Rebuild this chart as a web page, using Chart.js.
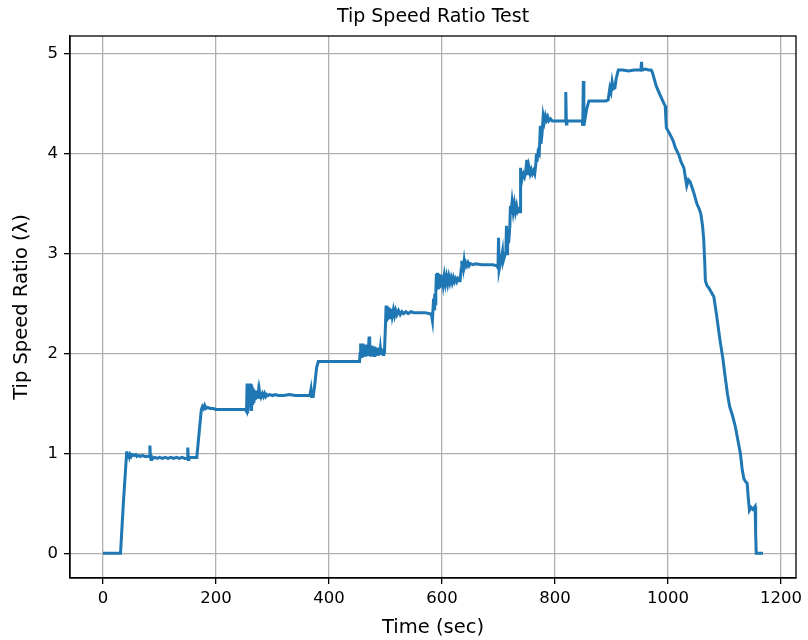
<!DOCTYPE html>
<html>
<head>
<meta charset="utf-8">
<script src="https://cdn.jsdelivr.net/npm/chart.js@4.4.1/dist/chart.umd.min.js"></script>
<style>
  html, body { margin: 0; padding: 0; background: #ffffff; }
  #wrap { width: 808px; height: 640px; }
</style>
</head>
<body>
<div id="wrap"><canvas id="c" width="808" height="640"></canvas></div>
<script>
// ---- data ----
const chartTitle = "Tip Speed Ratio Test";
const xAxisTitle = "Time (sec)";
const yAxisTitle = "Tip Speed Ratio (\u03bb)";
const xTickValues = [0, 200, 400, 600, 800, 1000, 1200];
const yTickValues = [0, 1, 2, 3, 4, 5];

// [time (sec), tip speed ratio]
const startup = [[0,0],[31,0],[36,0.5],[42,1.02]];
const step1 = [[43,0.97],[44,1.01],[45,0.96],[46,1.00],[47,0.97],[48,0.99],[50,0.97],[52,0.99],[55,0.98],[58,0.99],[60,0.97],[63,0.98],[66,0.97],[70,0.98],[74,0.97],[78,0.97],[82,0.97],[83,1.08],[84,0.96],[85,0.94],[86,0.97],[88,0.95],[92,0.96],[96,0.95],[100,0.96],[105,0.95],[110,0.96],[115,0.95],[120,0.96],[125,0.95],[130,0.96],[135,0.95],[140,0.96],[145,0.95],[149,0.95],[150,1.06],[151,0.94],[152,0.96],[160,0.96],[166,0.96]];
const step2 = [[170,1.20],[174,1.44],[176,1.47],[178,1.45],[180,1.48],[182,1.45],[185,1.46],[190,1.45],[195,1.45],[200,1.44],[210,1.44],[220,1.44],[230,1.44],[240,1.44],[250,1.44],[253,1.43]];
const step3 = [[254,1.42],[255,1.70],[256,1.40],[257,1.68],[258,1.46],[259,1.62],[260,1.48],[261,1.70],[262,1.44],[263,1.69],[264,1.50],[265,1.66],[266,1.52],[267,1.64],[268,1.53],[269,1.63],[270,1.54],[271,1.62],[272,1.55],[273,1.62],[274,1.55],[275,1.61],[276,1.56],[277,1.61],[278,1.56],[279,1.60],[280,1.57],[282,1.60],[284,1.57],[286,1.60],[288,1.57],[290,1.59],[292,1.58],[295,1.59],[300,1.58],[305,1.59],[310,1.58],[320,1.58],[330,1.59],[340,1.58],[350,1.58],[360,1.58],[366,1.58],[368,1.64],[369,1.57],[372,1.57],[375,1.70],[378,1.86],[381,1.92]];
const step4 = [[390,1.92],[400,1.92],[420,1.92],[440,1.92],[454,1.92]];
const step5 = [[455,2.00],[456,2.10],[457,1.97],[458,2.09],[459,1.98],[460,2.10],[461,1.97],[462,2.08],[463,1.98],[464,2.09],[465,1.97],[466,2.08],[467,1.98],[468,2.07],[469,1.99],[470,2.08],[471,2.17],[472,1.98],[473,2.07],[474,1.97],[475,2.08],[476,1.98],[477,2.07],[478,1.99],[479,2.06],[480,1.98],[481,2.07],[482,1.99],[483,2.06],[484,1.98],[485,2.05],[486,1.99],[487,2.06],[488,1.98],[489,2.05],[490,1.99],[491,2.05],[492,2.00],[493,2.04],[494,2.00],[495,2.05],[496,1.99],[497,2.04],[498,2.00]];
const step6 = [[500,2.30],[501,2.48],[502,2.32],[503,2.47],[504,2.34],[505,2.46],[506,2.35],[507,2.45],[508,2.36],[509,2.45],[510,2.37],[511,2.44],[512,2.38],[514,2.44],[516,2.38],[518,2.43],[520,2.39],[523,2.43],[526,2.39],[529,2.42],[532,2.40],[536,2.42],[540,2.40],[545,2.42],[550,2.41],[560,2.41],[570,2.41],[578,2.40],[581,2.40],[583,2.33],[585,2.55],[586,2.45],[587,2.60],[588,2.50]];
const step7 = [[589,2.62],[590,2.80],[591,2.64],[592,2.81],[593,2.66],[594,2.80],[595,2.67],[596,2.79],[597,2.68],[598,2.79],[599,2.69],[600,2.78],[602,2.69],[604,2.78],[606,2.70],[608,2.77],[610,2.70],[612,2.77],[614,2.71],[616,2.76],[618,2.71],[620,2.76],[622,2.72],[624,2.75],[626,2.72],[628,2.75],[630,2.73],[632,2.73]];
const step8 = [[634,2.85],[635,2.93],[636,2.86],[637,2.92],[638,2.87],[639,2.92],[640,2.87],[642,2.91],[644,2.88],[646,2.91],[648,2.88],[650,2.90],[655,2.89],[660,2.90],[670,2.89],[680,2.89],[690,2.89],[697,2.88],[699,2.86]];
const climb = [[700,3.16],[701,2.84],[703,2.90],[705,2.95],[707,3.02],[708,2.92],[710,2.96],[713,3.02],[714,3.28],[715,3.00],[716,3.10],[718,3.12],[720,3.28],[721,3.48],[722,3.40],[724,3.52],[726,3.42],[728,3.50],[730,3.42],[732,3.48],[734,3.42],[736,3.44],[738,3.42],[739,3.86],[740,3.70],[742,3.76],[744,3.80],[746,3.77],[748,3.82],[750,3.94],[751,3.80],[752,3.90],[753,3.80],[754,3.86],[756,3.80],[758,3.84],[760,3.80],[762,3.83],[764,3.80],[766,3.90],[767,4.00],[768,3.92],[770,4.02],[772,4.00],[774,4.28],[775,4.10],[777,4.20],[779,4.38],[781,4.32],[783,4.38],[785,4.34],[787,4.37],[789,4.33],[792,4.35],[795,4.33]];
const plateau = [[800,4.33],[810,4.33],[818,4.33],[819,4.62],[820,4.30],[821,4.33],[830,4.33],[840,4.33],[848,4.33],[849,4.28],[850,4.73],[851,4.28],[853,4.35],[856,4.45],[860,4.53],[870,4.53],[880,4.53],[890,4.53],[894,4.54],[897,4.66],[899,4.62],[901,4.72],[903,4.65],[906,4.66],[908,4.75],[912,4.84],[920,4.84],[930,4.83],[940,4.84],[950,4.84],[952,4.84],[953,4.92],[954,4.84],[960,4.85],[965,4.84],[970,4.84],[972,4.82]];
const rundown = [[979,4.68],[985,4.60],[989,4.55],[993,4.50],[995,4.48],[996,4.36],[997,4.26],[1000,4.23],[1003,4.20],[1009,4.13],[1013,4.06],[1019,3.99],[1023,3.92],[1028,3.86],[1031,3.75],[1033,3.68],[1036,3.74],[1039,3.72],[1045,3.62],[1051,3.50],[1055,3.45],[1058,3.40],[1061,3.28],[1063,3.15],[1065,2.90],[1066,2.73],[1069,2.68],[1072,2.66],[1076,2.62],[1081,2.57],[1086,2.38],[1092,2.13],[1097,1.95],[1101,1.77],[1105,1.60],[1109,1.47],[1114,1.38],[1119,1.27],[1124,1.12],[1128,1.00],[1131,0.85],[1134,0.75],[1137,0.72],[1140,0.70],[1142,0.55],[1144,0.43],[1147,0.46],[1150,0.44],[1154,0.47],[1155,0.20],[1156,0.00],[1162,0.00],[1168,0.00]];

const tsrReadings = [].concat(startup, step1, step2, step3, step4, step5, step6, step7, step8, climb, plateau, rundown);

// ---- chart ----
const FONT = "'DejaVu Sans', sans-serif";
const xMin = -58.4, xMax = 1226.4;
const yMin = -0.247, yMax = 5.18;

const framePlugin = {
  id: 'frame',
  afterDraw(chart) {
    const {ctx, chartArea: a} = chart;
    ctx.save();
    ctx.strokeStyle = '#000';
    ctx.lineWidth = 1.3;
    ctx.strokeRect(a.left, a.top, a.right - a.left, a.bottom - a.top);
    ctx.fillStyle = '#000';
    ctx.font = "19px " + FONT;
    ctx.textAlign = 'center';
    ctx.textBaseline = 'middle';
    ctx.fillText(chartTitle, (a.left + a.right) / 2, 17);
    ctx.restore();
  }
};

new Chart(document.getElementById('c'), {
  type: 'line',
  data: {
    datasets: [{
      data: tsrReadings.map(r => ({x: r[0], y: r[1]})),
      borderColor: '#1f77b4',
      borderWidth: 3,
      pointRadius: 0,
      tension: 0,
      fill: false
    }]
  },
  options: {
    responsive: false,
    animation: false,
    layout: { padding: { left: 0, right: 12, top: 36, bottom: 0 } },
    plugins: { legend: { display: false }, title: { display: false }, tooltip: { enabled: false } },
    scales: {
      x: {
        type: 'linear',
        min: xMin, max: xMax,
        afterBuildTicks: s => { s.ticks = xTickValues.map(v => ({value: v})); },
        afterFit: s => { s.height = 62; },
        grid: { color: '#b0b0b0', lineWidth: 1.3, tickColor: '#000', tickLength: 6, drawOnChartArea: true },
        border: { display: true, color: '#000', width: 1.3 },
        ticks: { color: '#000', font: { family: FONT, size: 16.5 }, padding: 5, maxRotation: 0, autoSkip: false,
                 callback: v => String(v) },
        title: { display: true, text: xAxisTitle, color: '#000', font: { family: FONT, size: 19.5 }, padding: { top: 2, bottom: 0 } }
      },
      y: {
        type: 'linear',
        min: yMin, max: yMax,
        afterBuildTicks: s => { s.ticks = yTickValues.map(v => ({value: v})); },
        afterFit: s => { s.width = 70; },
        grid: { color: '#b0b0b0', lineWidth: 1.3, tickColor: '#000', tickLength: 6 },
        border: { display: true, color: '#000', width: 1.3 },
        ticks: { color: '#000', font: { family: FONT, size: 16.5 }, padding: 6, autoSkip: false,
                 callback: v => String(v) },
        title: { display: true, text: yAxisTitle, color: '#000', font: { family: FONT, size: 19.5 }, padding: { top: 10, bottom: 2 } }
      }
    }
  },
  plugins: [framePlugin]
});
</script>
</body>
</html>
